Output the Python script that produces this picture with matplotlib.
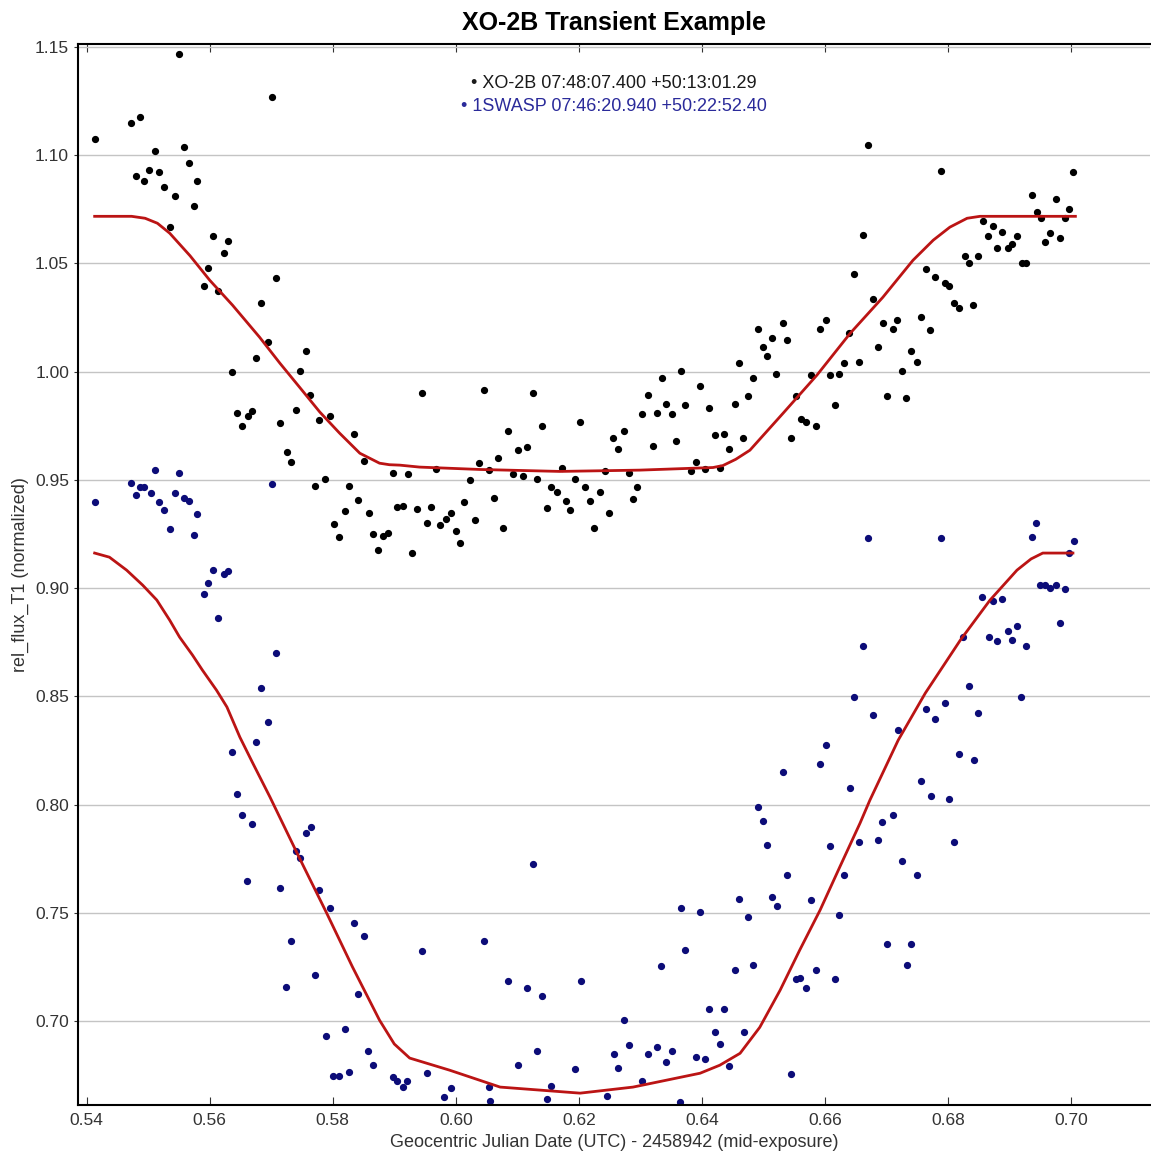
import numpy as np
import matplotlib
matplotlib.use("Agg")
import matplotlib.pyplot as plt

plt.rcParams['font.family'] = ['Liberation Sans', 'DejaVu Sans']

# --- XO-2B (target), black points ---
xo_x = [0.5550, 0.5701, 0.5486, 0.5472, 0.5413, 0.5559, 0.5511, 0.5566, 0.5480, 0.5502,
        0.5517, 0.5493, 0.5525, 0.5580, 0.5543, 0.5574, 0.5535, 0.5605, 0.5629, 0.5623,
        0.5598, 0.5707, 0.5590, 0.5613, 0.5683, 0.5694, 0.5676, 0.5756, 0.5746, 0.5637,
        0.5763, 0.5644, 0.5652, 0.5662, 0.5668, 0.5740, 0.5714, 0.5795, 0.5777, 0.5834,
        0.5725, 0.5732, 0.5850, 0.5898, 0.5922, 0.5771, 0.5787, 0.5826, 0.5841, 0.5820,
        0.5859, 0.5904, 0.5914, 0.5937, 0.5802, 0.5810, 0.5865, 0.5881, 0.5889, 0.5873,
        0.5928, 0.5945, 0.5953, 0.5959, 0.5967, 0.5974, 0.5984, 0.5992, 0.6000, 0.6007,
        0.6013, 0.6023, 0.6031, 0.6037, 0.6046, 0.6054, 0.6062, 0.6068, 0.6076, 0.6085,
        0.6093, 0.6101, 0.6109, 0.6115, 0.6125, 0.6132, 0.6140, 0.6148, 0.6154, 0.6164,
        0.6172, 0.6179, 0.6185, 0.6193, 0.6202, 0.6210, 0.6218, 0.6224, 0.6234, 0.6242,
        0.6249, 0.6255, 0.6263, 0.6273, 0.6281, 0.6288, 0.6294, 0.6302, 0.6312, 0.6320,
        0.6327, 0.6335, 0.6341, 0.6351, 0.6358, 0.6366, 0.6372, 0.6382, 0.6390, 0.6397,
        0.6405, 0.6411, 0.6421, 0.6436, 0.6429, 0.6444, 0.6454, 0.6460, 0.6467, 0.6475,
        0.6483, 0.6491, 0.6499, 0.6506, 0.6514, 0.6520, 0.6670, 0.6789, 0.7003, 0.6937,
        0.6976, 0.6945, 0.6951, 0.6997, 0.6990, 0.6857, 0.6873, 0.6888, 0.6865, 0.6912,
        0.6904, 0.6880, 0.6898, 0.6958, 0.6966, 0.6982, 0.6920, 0.6927, 0.6662, 0.6828,
        0.6834, 0.6849, 0.6764, 0.6779, 0.6795, 0.6802, 0.6810, 0.6818, 0.6841, 0.6647,
        0.6678, 0.6694, 0.6711, 0.6717, 0.6756, 0.6771, 0.6686, 0.6725, 0.6740, 0.6750,
        0.6701, 0.6732, 0.6639, 0.6655, 0.6602, 0.6592, 0.6631, 0.6623, 0.6608, 0.6616,
        0.6577, 0.6553, 0.6561, 0.6569, 0.6585, 0.6545, 0.6532, 0.6538]
xo_y = [1.1465, 1.1267, 1.1175, 1.1147, 1.1073, 1.1036, 1.1018, 1.0962, 1.0902, 1.0930,
        1.0921, 1.0879, 1.0851, 1.0879, 1.0810, 1.0764, 1.0667, 1.0625, 1.0602, 1.0547,
        1.0477, 1.0431, 1.0394, 1.0371, 1.0316, 1.0136, 1.0062, 1.0094, 1.0002, 0.9998,
        0.9891, 0.9808, 0.9748, 0.9794, 0.9817, 0.9822, 0.9762, 0.9794, 0.9776, 0.9711,
        0.9628, 0.9582, 0.9586, 0.9531, 0.9526, 0.9471, 0.9503, 0.9471, 0.9406, 0.9355,
        0.9346, 0.9374, 0.9379, 0.9365, 0.9295, 0.9235, 0.9249, 0.9240, 0.9254, 0.9176,
        0.9162, 0.9900, 0.9300, 0.9374, 0.9549, 0.9291, 0.9318, 0.9346, 0.9263, 0.9208,
        0.9397, 0.9499, 0.9314, 0.9577, 0.9914, 0.9545, 0.9416, 0.9600, 0.9277, 0.9725,
        0.9526, 0.9637, 0.9517, 0.9651, 0.9900, 0.9503, 0.9748, 0.9369, 0.9466, 0.9443,
        0.9554, 0.9402, 0.9360, 0.9503, 0.9767, 0.9466, 0.9402, 0.9277, 0.9443, 0.9540,
        0.9346, 0.9692, 0.9642, 0.9725, 0.9531, 0.9411, 0.9466, 0.9803, 0.9891, 0.9656,
        0.9808, 0.9970, 0.9849, 0.9803, 0.9679, 1.0002, 0.9845, 0.9540, 0.9582, 0.9933,
        0.9549, 0.9831, 0.9707, 0.9711, 0.9554, 0.9642, 0.9849, 1.0039, 0.9692, 0.9886,
        0.9970, 1.0196, 1.0113, 1.0071, 1.0154, 0.9988, 1.1045, 1.0925, 1.0921, 1.0814,
        1.0796, 1.0736, 1.0708, 1.0750, 1.0708, 1.0694, 1.0671, 1.0643, 1.0625, 1.0625,
        1.0588, 1.0570, 1.0570, 1.0597, 1.0639, 1.0616, 1.0500, 1.0500, 1.0630, 1.0533,
        1.0500, 1.0533, 1.0473, 1.0436, 1.0408, 1.0394, 1.0316, 1.0293, 1.0307, 1.0450,
        1.0334, 1.0223, 1.0196, 1.0237, 1.0251, 1.0191, 1.0113, 1.0002, 1.0094, 1.0043,
        0.9886, 0.9877, 1.0177, 1.0043, 1.0237, 1.0196, 1.0039, 0.9988, 0.9984, 0.9845,
        0.9984, 0.9886, 0.9780, 0.9767, 0.9748, 0.9692, 1.0223, 1.0145]

# --- 1SWASP (comparison), blue points ---
sw_x = [0.5413, 0.5511, 0.5550, 0.5472, 0.5480, 0.5486, 0.5493, 0.5504, 0.5517, 0.5525,
        0.5535, 0.5543, 0.5559, 0.5566, 0.5574, 0.5580, 0.5701, 0.5605, 0.5598, 0.5590,
        0.5623, 0.5629, 0.5613, 0.5707, 0.5683, 0.5694, 0.5676, 0.5637, 0.5644, 0.5652,
        0.5668, 0.5756, 0.5764, 0.5740, 0.5746, 0.5660, 0.5715, 0.5777, 0.5795, 0.5732,
        0.5771, 0.5724, 0.5820, 0.5789, 0.5800, 0.5810, 0.5826, 0.5834, 0.5850, 0.5841,
        0.5857, 0.5865, 0.5898, 0.5904, 0.5914, 0.5920, 0.5945, 0.5953, 0.5992, 0.6046,
        0.6054, 0.6085, 0.6101, 0.6115, 0.6125, 0.6132, 0.6140, 0.6154, 0.6193, 0.6203,
        0.6257, 0.6263, 0.6273, 0.6281, 0.6302, 0.6312, 0.6327, 0.6333, 0.6341, 0.6351,
        0.6366, 0.6372, 0.6390, 0.6397, 0.6405, 0.6411, 0.6421, 0.6429, 0.6436, 0.6444,
        0.6454, 0.6460, 0.6468, 0.6475, 0.5980, 0.6055, 0.6148, 0.6245, 0.6365,
        0.6670, 0.6789, 0.6943, 0.6937, 0.7005, 0.6997, 0.6950, 0.6958, 0.6966, 0.6976,
        0.6990, 0.6982, 0.6855, 0.6873, 0.6888, 0.6824, 0.6867, 0.6880, 0.6898, 0.6912,
        0.6904, 0.6927, 0.6662, 0.6647, 0.6678, 0.6764, 0.6795, 0.6779, 0.6834, 0.6849,
        0.6919, 0.6719, 0.6602, 0.6592, 0.6532, 0.6818, 0.6842, 0.6756, 0.6772, 0.6802,
        0.6641, 0.6491, 0.6499, 0.6693, 0.6711, 0.6506, 0.6538, 0.6514, 0.6522, 0.6577,
        0.6608, 0.6631, 0.6623, 0.6655, 0.6686, 0.6725, 0.6750, 0.6810, 0.6701, 0.6740,
        0.6733, 0.6483, 0.6553, 0.6559, 0.6569, 0.6585, 0.6616, 0.6545]
sw_y = [0.9397, 0.9545, 0.9531, 0.9485, 0.9429, 0.9466, 0.9466, 0.9439, 0.9397, 0.9360,
        0.9272, 0.9439, 0.9416, 0.9402, 0.9245, 0.9342, 0.9480, 0.9083, 0.9023, 0.8972,
        0.9065, 0.9079, 0.8861, 0.8700, 0.8538, 0.8381, 0.8289, 0.8243, 0.8049, 0.7952,
        0.7910, 0.7869, 0.7896, 0.7785, 0.7753, 0.7647, 0.7615, 0.7606, 0.7523, 0.7370,
        0.7213, 0.7158, 0.6964, 0.6931, 0.6746, 0.6746, 0.6765, 0.7453, 0.7393, 0.7126,
        0.6862, 0.6797, 0.6742, 0.6723, 0.6696, 0.6723, 0.7324, 0.6760, 0.6691, 0.7370,
        0.6696, 0.7186, 0.6797, 0.7153, 0.7726, 0.6862, 0.7116, 0.6700, 0.6779, 0.7186,
        0.6848, 0.6783, 0.7005, 0.6890, 0.6723, 0.6848, 0.6880, 0.7255, 0.6811, 0.6862,
        0.7523, 0.7329, 0.6834, 0.7504, 0.6825, 0.7056, 0.6950, 0.6894, 0.7056, 0.6793,
        0.7236, 0.7564, 0.6950, 0.7481, 0.6648, 0.6630, 0.6640, 0.6655, 0.6625,
        0.9231, 0.9231, 0.9300, 0.9235, 0.9217, 0.9162, 0.9014, 0.9014, 0.9000, 0.9014,
        0.8995, 0.8838, 0.8958, 0.8940, 0.8949, 0.8774, 0.8774, 0.8755, 0.8801, 0.8824,
        0.8760, 0.8732, 0.8732, 0.8497, 0.8414, 0.8441, 0.8469, 0.8395, 0.8548, 0.8423,
        0.8497, 0.8344, 0.8275, 0.8187, 0.8150, 0.8233, 0.8206, 0.8109, 0.8040, 0.8026,
        0.8077, 0.7989, 0.7924, 0.7920, 0.7952, 0.7813, 0.7675, 0.7573, 0.7532, 0.7560,
        0.7808, 0.7675, 0.7490, 0.7827, 0.7836, 0.7739, 0.7675, 0.7827, 0.7356, 0.7356,
        0.7259, 0.7259, 0.7195, 0.7199, 0.7153, 0.7236, 0.7195, 0.6756]

# --- transit model fits (red) ---
fit_xo_x = [0.5413, 0.5473, 0.5495, 0.5515, 0.5535, 0.5568, 0.5600, 0.5637, 0.5681, 0.5714,
            0.5746, 0.5779, 0.5811, 0.5844, 0.5876, 0.5892, 0.5909, 0.5941, 0.6039, 0.6169,
            0.6299, 0.6418, 0.6434, 0.6455, 0.6478, 0.6532, 0.6587, 0.6641, 0.6694, 0.6743,
            0.6776, 0.6803, 0.6831, 0.6852, 0.7007]
fit_xo_y = [1.0717, 1.0717, 1.0708, 1.0685, 1.0639, 1.0535, 1.0422, 1.0307, 1.0159, 1.0039,
            0.9928, 0.9813, 0.9716, 0.9623, 0.9577, 0.9570, 0.9568, 0.9559, 0.9548, 0.9539,
            0.9545, 0.9557, 0.9566, 0.9595, 0.9637, 0.9808, 0.9984, 1.0177, 1.0343, 1.0514,
            1.0607, 1.0667, 1.0708, 1.0717, 1.0717]

fit_sw_x = [0.5413, 0.5437, 0.5465, 0.5491, 0.5514, 0.5535, 0.5551, 0.5572, 0.5588, 0.5611,
            0.5628, 0.5649, 0.5670, 0.5698, 0.5746, 0.5790, 0.5832, 0.5876, 0.5900, 0.5925,
            0.5990, 0.6072, 0.6202, 0.6288, 0.6397, 0.6429, 0.6462, 0.6494, 0.6527, 0.6559,
            0.6592, 0.6624, 0.6657, 0.6673, 0.6719, 0.6763, 0.6820, 0.6868, 0.6912, 0.6935,
            0.6954, 0.7003]
fit_sw_y = [0.9162, 0.9143, 0.9083, 0.9014, 0.8945, 0.8852, 0.8774, 0.8691, 0.8622, 0.8529,
            0.8451, 0.8312, 0.8192, 0.8035, 0.7753, 0.7500, 0.7251, 0.7005, 0.6895, 0.6830,
            0.6774, 0.6696, 0.6668, 0.6696, 0.6760, 0.6797, 0.6852, 0.6972, 0.7143, 0.7329,
            0.7513, 0.7712, 0.7915, 0.8021, 0.8298, 0.8515, 0.8760, 0.8944, 0.9083, 0.9135,
            0.9162, 0.9162]

xo_label = "XO-2B 07:48:07.400 +50:13:01.29"
sw_label = "1SWASP 07:46:20.940 +50:22:52.40"

fig = plt.figure(figsize=(11.51, 11.62), dpi=100)
ax = fig.add_axes([0.0678, 0.049, 0.9312, 0.913])

ax.yaxis.grid(True, color='#c4c4c4', lw=1.0)
ax.set_axisbelow(True)

ax.plot(xo_x, xo_y, 'o', color='black', ms=4.2, ls='none')
ax.plot(sw_x, sw_y, 'o', color='#0c0c78', ms=4.2, ls='none')
ax.plot(fit_xo_x, fit_xo_y, color='#bb1414', lw=2.0)
ax.plot(fit_sw_x, fit_sw_y, color='#bb1414', lw=2.0)

ax.set_xlim(0.5386, 0.7128)
ax.set_ylim(0.6613, 1.1512)
ax.set_xticks(np.arange(0.54, 0.7001, 0.02))
ax.set_yticks(np.arange(0.70, 1.1501, 0.05))
ax.xaxis.set_major_formatter(matplotlib.ticker.FormatStrFormatter('%.2f'))
ax.yaxis.set_major_formatter(matplotlib.ticker.FormatStrFormatter('%.2f'))
ax.tick_params(axis='x', direction='in', top=True, length=6, labelsize=12.5, colors='#333333', pad=6)
ax.tick_params(axis='y', direction='out', length=3, labelsize=12.5, colors='#333333')

for s in ['left', 'bottom', 'top']:
    ax.spines[s].set_linewidth(1.5)
    ax.spines[s].set_color('black')
ax.spines['right'].set_visible(False)

ax.set_title("XO-2B Transient Example", fontsize=18, fontweight='bold', pad=10)
ax.set_xlabel("Geocentric Julian Date (UTC) - 2458942 (mid-exposure)", fontsize=13, color='#333333', labelpad=4)
ax.set_ylabel("rel_flux_T1 (normalized)", fontsize=13, color='#333333', labelpad=4)

# legend: each line centred, bullet as marker
ax.text(0.5, 0.963, "\u2022 " + xo_label, transform=ax.transAxes, ha='center', va='center',
        fontsize=13, color='#1a1a1a')
ax.text(0.5, 0.941, "\u2022 " + sw_label, transform=ax.transAxes, ha='center', va='center',
        fontsize=13, color='#2a2a9a')

fig.savefig("out.png", dpi=100)
